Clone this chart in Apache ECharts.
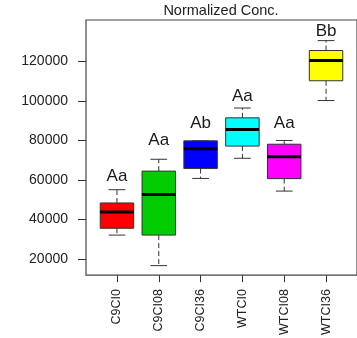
<!DOCTYPE html>
<html>
<head>
<meta charset="utf-8">
<script src="https://cdn.jsdelivr.net/npm/echarts@6/dist/echarts.min.js"></script>
<style>
  html, body { margin: 0; padding: 0; background: #fff; }
  #chart { width: 357px; height: 338px; }
</style>
</head>
<body>
<div id="chart"></div>
<script>
// Groups and their five-number summaries
const categories   = ['C9CI0', 'C9CI08', 'C9CI36', 'WTCI0', 'WTCI08', 'WTCI36'];
const lowerWhisker = [32150, 16700, 60800, 71000, 54400, 100200];
const lowerQuart   = [35600, 32150, 65800, 77150, 60700, 110200];
const medians      = [43800, 52700, 75800, 85500, 71800, 120500];
const upperQuart   = [48400, 64500, 79800, 91450, 78100, 125500];
const upperWhisker = [55100, 70500, 79800, 96400, 80000, 130500];

// Significance letters and the value each one sits at
const letters  = ['Aa', 'Aa', 'Ab', 'Aa', 'Aa', 'Bb'];
const letterAt = [62000, 80200, 88600, 102200, 88600, 135000];

const yTicks = [20000, 40000, 60000, 80000, 100000, 120000];
const boxColors = ['#FF0000', '#00CD00', '#0000FF', '#00FFFF', '#FF00FF', '#FFFF00'];

const rows = categories.map((c, i) => [
  i + 1, lowerWhisker[i], lowerQuart[i], medians[i], upperQuart[i], upperWhisker[i], i
]);

const FONT = '"Liberation Sans", Arial, sans-serif';

function renderBox(params, api) {
  const x = api.value(0);
  const i = api.value(6);
  const lw = api.coord([x, api.value(1)]);
  const q1 = api.coord([x, api.value(2)]);
  const md = api.coord([x, api.value(3)]);
  const q3 = api.coord([x, api.value(4)]);
  const uw = api.coord([x, api.value(5)]);
  const txt = api.coord([x, letterAt[i]]);
  const w = api.size([0.8, 0])[0];
  const cx = lw[0];
  const capHalf = w / 4;
  const dash = { stroke: '#333', lineWidth: 1, lineDash: [5, 3] };
  const solid = { stroke: '#333', lineWidth: 1 };
  return {
    type: 'group',
    children: [
      { type: 'line', shape: { x1: cx, y1: q3[1], x2: cx, y2: uw[1] }, style: dash },
      { type: 'line', shape: { x1: cx, y1: q1[1], x2: cx, y2: lw[1] }, style: dash },
      { type: 'line', shape: { x1: cx - capHalf, y1: uw[1], x2: cx + capHalf, y2: uw[1] }, style: solid },
      { type: 'line', shape: { x1: cx - capHalf, y1: lw[1], x2: cx + capHalf, y2: lw[1] }, style: solid },
      { type: 'rect', shape: { x: cx - w / 2, y: q3[1], width: w, height: q1[1] - q3[1] },
        style: { fill: boxColors[i], stroke: '#333', lineWidth: 1 } },
      { type: 'line', shape: { x1: cx - w / 2, y1: md[1], x2: cx + w / 2, y2: md[1] },
        style: { stroke: '#000', lineWidth: 3 } },
      { type: 'text', x: cx, y: txt[1],
        style: { text: letters[i], fill: '#1a1a1a', font: '17px ' + FONT,
                 align: 'center', verticalAlign: 'middle' } }
    ]
  };
}

const chart = echarts.init(document.getElementById('chart'), null, { renderer: 'canvas' });
chart.setOption({
  animation: false,
  backgroundColor: '#fff',
  title: {
    text: 'Normalized Conc.',
    left: 221, top: 3, padding: 0, textAlign: 'center',
    textStyle: { fontFamily: FONT, fontSize: 14.5, fontWeight: 'normal', color: '#222' }
  },
  grid: {
    left: 86, top: 20, width: 271, height: 259,
    show: true, borderColor: '#444', borderWidth: 1.2, backgroundColor: 'transparent'
  },
  xAxis: {
    type: 'value', min: 0.26, max: 6.74,
    axisLine: { show: false },
    splitLine: { show: false },
    axisTick: { show: true, length: 7, customValues: [1, 2, 3, 4, 5, 6],
                lineStyle: { color: '#333', width: 1 } },
    axisLabel: {
      customValues: [1, 2, 3, 4, 5, 6],
      formatter: v => categories[Math.round(v) - 1],
      rotate: 90, margin: 14,
      fontFamily: FONT, fontSize: 12.5, color: '#222'
    }
  },
  yAxis: {
    type: 'value', min: 11880, max: 140930,
    axisLine: { show: false },
    splitLine: { show: false },
    axisTick: { show: true, length: 8, customValues: yTicks,
                lineStyle: { color: '#333', width: 1 } },
    axisLabel: {
      customValues: yTicks,
      formatter: v => String(v),
      margin: 18,
      fontFamily: FONT, fontSize: 14, color: '#222'
    }
  },
  series: [{
    type: 'custom',
    clip: false,
    renderItem: renderBox,
    encode: { x: 0, y: [1, 2, 3, 4, 5] },
    data: rows
  }]
});
</script>
</body>
</html>
